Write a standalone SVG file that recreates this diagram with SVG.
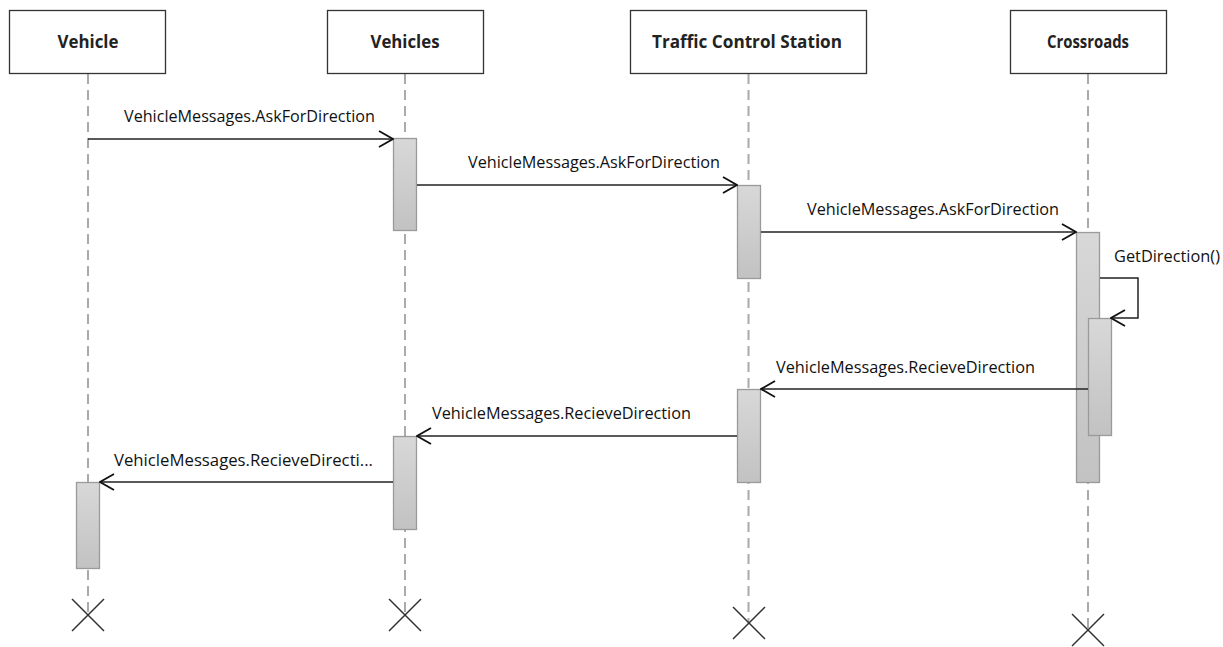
<svg xmlns="http://www.w3.org/2000/svg" width="1223" height="647" viewBox="0 0 1223 647">
<defs>
<linearGradient id="actGrad" x1="0" y1="0" x2="0" y2="1">
<stop offset="0" stop-color="#d8d8d8"/>
<stop offset="1" stop-color="#c2c2c2"/>
</linearGradient>
<marker id="open" viewBox="0 0 16 18" refX="15" refY="9" markerWidth="16" markerHeight="18" markerUnits="userSpaceOnUse" orient="auto">
<path d="M1,1 L15,9 L1,17" fill="none" stroke="#111" stroke-width="1.8"/>
</marker>
<style>
.head{fill:#fff;stroke:#333;stroke-width:1.3}
.title{font-family:"Open Sans","Liberation Sans",sans-serif;font-weight:bold;font-size:17px;fill:#222;text-anchor:middle}
.life{stroke:#aaa;stroke-width:2;stroke-dasharray:10 6;fill:none}
.act{fill:url(#actGrad);stroke:#9a9a9a;stroke-width:1.3}
.msg{stroke:#222;stroke-width:1.5;fill:none;marker-end:url(#open)}
.lbl{font-family:"Open Sans","Liberation Sans",sans-serif;font-size:16px;fill:#111}
.x{stroke:#333;stroke-width:1.5;fill:none}
</style>
</defs>

<g id="lifelines">
<line class="life" x1="88" y1="74" x2="88" y2="615"/>
<line class="life" x1="405" y1="74" x2="405" y2="615"/>
<line class="life" x1="748.5" y1="74" x2="748.5" y2="623"/>
<line class="life" x1="1088" y1="74" x2="1088" y2="630"/>
</g>

<g id="node-vehicle">
<rect class="head" x="9.5" y="10.5" width="156" height="63"/>
<text class="title" x="88" y="48" textLength="61" lengthAdjust="spacingAndGlyphs">Vehicle</text>
<rect class="act" x="76.5" y="482.5" width="23" height="86"/>
<path class="x" d="M72,599 L104,631 M104,599 L72,631"/>
</g>

<g id="node-vehicles">
<rect class="head" x="327.5" y="10.5" width="156" height="63"/>
<text class="title" x="405" y="48" textLength="69" lengthAdjust="spacingAndGlyphs">Vehicles</text>
<rect class="act" x="393.5" y="138.5" width="23" height="92"/>
<rect class="act" x="393.5" y="436.5" width="23" height="93"/>
<path class="x" d="M389,599 L421,631 M421,599 L389,631"/>
</g>

<g id="node-tcs">
<rect class="head" x="630.5" y="10.5" width="236" height="63"/>
<text class="title" x="747" y="48" textLength="190" lengthAdjust="spacingAndGlyphs">Traffic Control Station</text>
<rect class="act" x="737.5" y="185.5" width="23" height="93"/>
<rect class="act" x="737.5" y="389.5" width="23" height="93"/>
<path class="x" d="M733,607 L765,639 M765,607 L733,639"/>
</g>

<g id="node-crossroads">
<rect class="head" x="1010.5" y="10.5" width="156" height="63"/>
<text class="title" x="1088" y="48" textLength="82" lengthAdjust="spacingAndGlyphs">Crossroads</text>
<rect class="act" x="1076.5" y="232.5" width="23" height="250"/>
<rect class="act" x="1088.5" y="318.5" width="23" height="117"/>
<path class="x" d="M1072,614 L1104,646 M1104,614 L1072,646"/>
</g>

<g id="connectors">
<line class="msg" x1="88" y1="139" x2="393" y2="139"/>
<text class="lbl" x="124" y="122" textLength="251" lengthAdjust="spacingAndGlyphs">VehicleMessages.AskForDirection</text>

<line class="msg" x1="417" y1="185" x2="737" y2="185"/>
<text class="lbl" x="468" y="168" textLength="252" lengthAdjust="spacingAndGlyphs">VehicleMessages.AskForDirection</text>

<line class="msg" x1="761" y1="232" x2="1076" y2="232"/>
<text class="lbl" x="807" y="215" textLength="252" lengthAdjust="spacingAndGlyphs">VehicleMessages.AskForDirection</text>

<path class="msg" d="M1100,278 L1138,278 L1138,318 L1111,318"/>
<text class="lbl" x="1114" y="262" textLength="106" lengthAdjust="spacingAndGlyphs">GetDirection()</text>

<line class="msg" x1="1088" y1="389" x2="761" y2="389"/>
<text class="lbl" x="776" y="373" textLength="259" lengthAdjust="spacingAndGlyphs">VehicleMessages.RecieveDirection</text>

<line class="msg" x1="737" y1="436" x2="417" y2="436"/>
<text class="lbl" x="432" y="419" textLength="259" lengthAdjust="spacingAndGlyphs">VehicleMessages.RecieveDirection</text>

<line class="msg" x1="393" y1="482" x2="100" y2="482"/>
<text class="lbl" x="114" y="466" textLength="259" lengthAdjust="spacingAndGlyphs">VehicleMessages.RecieveDirecti...</text>
</g>
</svg>
